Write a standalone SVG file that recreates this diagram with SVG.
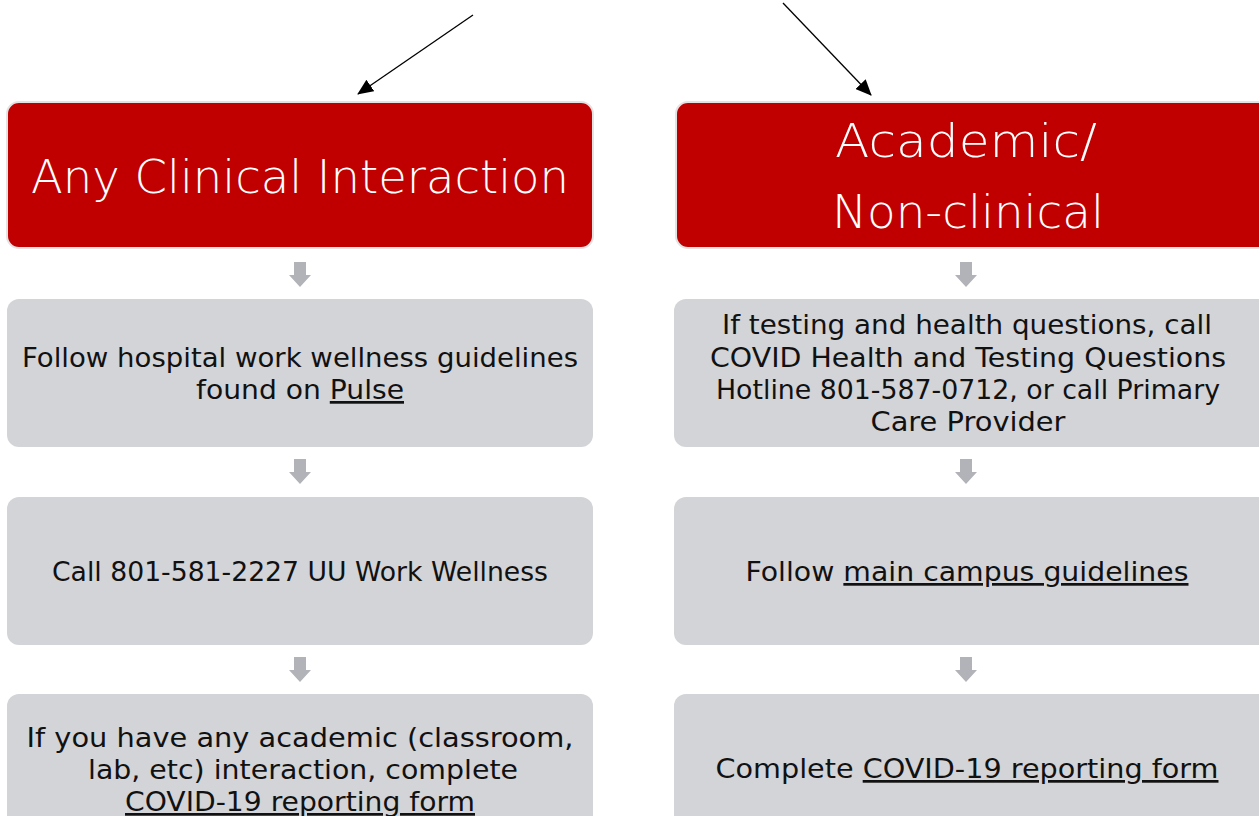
<svg xmlns="http://www.w3.org/2000/svg" width="1259" height="816" viewBox="0 0 1259 816">
<defs>
<style>
.hdr{fill:#C00000;stroke:#E3E3E3;stroke-width:2}
.box{fill:#D3D4D8}
.ht{font-family:"DejaVu Sans","Liberation Sans",sans-serif;font-size:46px;font-weight:200;fill:#FFFFFF;text-anchor:middle}
.bt{font-family:"DejaVu Sans","Liberation Sans",sans-serif;font-size:27px;fill:#111111;text-anchor:middle}
.u{text-decoration:underline}
.ga{fill:#B1B3B9}
.conn{stroke:#000;stroke-width:1.3;fill:none}
</style>
<marker id="ah" markerWidth="16" markerHeight="14" refX="15" refY="7" orient="auto" markerUnits="userSpaceOnUse" viewBox="0 0 16 14">
<path d="M0,0 L16,7 L0,14 z" fill="#000"/>
</marker>
<path id="garrow" d="M-6,0 H6 V13 H11 L0,25 L-11,13 H-6 Z"/>
</defs>
<rect width="1259" height="816" fill="#FFFFFF"/>

<g id="connectors">
<line class="conn" x1="473" y1="15" x2="358" y2="94" marker-end="url(#ah)"/>
<line class="conn" x1="783" y1="3" x2="871" y2="95" marker-end="url(#ah)"/>
<use href="#garrow" class="ga" x="300" y="262"/>
<use href="#garrow" class="ga" x="300" y="459"/>
<use href="#garrow" class="ga" x="300" y="657"/>
<use href="#garrow" class="ga" x="966" y="262"/>
<use href="#garrow" class="ga" x="966" y="459"/>
<use href="#garrow" class="ga" x="966" y="657"/>
</g>

<g id="clinical">
<rect class="hdr" x="7" y="102" width="586" height="146" rx="12"/>
<text class="ht" x="300" y="193" textLength="538" lengthAdjust="spacingAndGlyphs">Any Clinical Interaction</text>
</g>

<g id="academic">
<rect class="hdr" x="676" y="102" width="600" height="146" rx="12"/>
<text class="ht" x="966" y="157" textLength="262" lengthAdjust="spacingAndGlyphs">Academic/</text>
<text class="ht" x="968" y="228" textLength="272" lengthAdjust="spacingAndGlyphs">Non-clinical</text>
</g>

<g id="pulse">
<rect class="box" x="7" y="299" width="586" height="148" rx="12"/>
<text class="bt" x="300" y="367" textLength="556" lengthAdjust="spacingAndGlyphs">Follow hospital work wellness guidelines</text>
<text class="bt" x="300" y="399" textLength="208" lengthAdjust="spacingAndGlyphs">found on <tspan class="u">Pulse</tspan></text>
</g>

<g id="workwellness">
<rect class="box" x="7" y="497" width="586" height="148" rx="12"/>
<text class="bt" x="300" y="581" textLength="496" lengthAdjust="spacingAndGlyphs">Call 801-581-2227 UU Work Wellness</text>
</g>

<g id="academic-form">
<rect class="box" x="7" y="694" width="586" height="148" rx="12"/>
<text class="bt" x="300" y="747" textLength="547" lengthAdjust="spacingAndGlyphs">If you have any academic (classroom,</text>
<text class="bt" x="303" y="779" textLength="430" lengthAdjust="spacingAndGlyphs">lab, etc) interaction, complete</text>
<text class="bt u" x="300" y="811" textLength="350" lengthAdjust="spacingAndGlyphs">COVID-19 reporting form</text>
</g>

<g id="hotline">
<rect class="box" x="674" y="299" width="600" height="148" rx="12"/>
<text class="bt" x="967" y="334" textLength="490" lengthAdjust="spacingAndGlyphs">If testing and health questions, call</text>
<text class="bt" x="968" y="367" textLength="516" lengthAdjust="spacingAndGlyphs">COVID Health and Testing Questions</text>
<text class="bt" x="968" y="399" textLength="504" lengthAdjust="spacingAndGlyphs">Hotline 801-587-0712, or call Primary</text>
<text class="bt" x="968" y="431" textLength="195" lengthAdjust="spacingAndGlyphs">Care Provider</text>
</g>

<g id="campus">
<rect class="box" x="674" y="497" width="600" height="148" rx="12"/>
<text class="bt" x="967" y="581" textLength="443" lengthAdjust="spacingAndGlyphs">Follow <tspan class="u">main campus guidelines</tspan></text>
</g>

<g id="complete-form">
<rect class="box" x="674" y="694" width="600" height="148" rx="12"/>
<text class="bt" x="967" y="778" textLength="503" lengthAdjust="spacingAndGlyphs">Complete <tspan class="u">COVID-19 reporting form</tspan></text>
</g>
</svg>
